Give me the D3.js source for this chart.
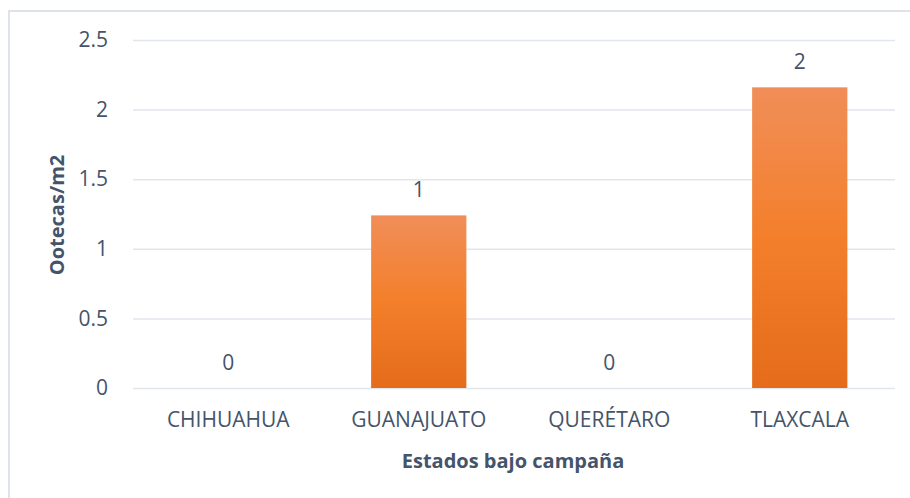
<!DOCTYPE html>
<html>
<head>
<meta charset="utf-8">
<script src="https://cdn.jsdelivr.net/npm/d3@7"></script>
<style>
  html, body { margin: 0; padding: 0; background: #ffffff; }
  svg { display: block; }
</style>
</head>
<body>
<svg id="chart" width="910" height="498"></svg>
<script>
const categories = ["CHIHUAHUA", "GUANAJUATO", "QUERÉTARO", "TLAXCALA"];
const values = [0, 1.24, 0, 2.16];
const valueLabels = ["0", "1", "0", "2"];
const yTicks = [0, 0.5, 1, 1.5, 2, 2.5];
const xTitle = "Estados bajo campaña";
const yTitle = "Ootecas/m2";

const svg = d3.select("#chart");
const textColor = "#44546A";
const font = "'Open Sans', 'Noto Sans', sans-serif";
const fs = "21px";

// outer border
svg.append("path")
  .attr("d", "M9,498 L9,11 L910,11")
  .attr("fill", "none")
  .attr("stroke", "#DEE3EA")
  .attr("stroke-width", 2);

const x = d3.scaleBand().domain(categories).range([133, 895]).paddingInner(0.5).paddingOuter(0.25);
const y = d3.scaleLinear().domain([0, 2.5]).range([388, 40]);

const defs = svg.append("defs");
const grad = defs.append("linearGradient").attr("id", "barGrad")
  .attr("x1", 0).attr("y1", 0).attr("x2", 0).attr("y2", 1);
grad.append("stop").attr("offset", "0%").attr("stop-color", "#F08E58");
grad.append("stop").attr("offset", "50%").attr("stop-color", "#F47F2B");
grad.append("stop").attr("offset", "100%").attr("stop-color", "#E46C1A");

// gridlines
const yAxis = d3.axisLeft(y).tickValues(yTicks).tickSize(-(895 - 133)).tickFormat(d3.format("~g")).tickPadding(25);
const gy = svg.append("g").attr("transform", "translate(133,0)").call(yAxis);
gy.select(".domain").remove();
gy.selectAll(".tick line").attr("stroke", "#E1E5EC").attr("stroke-width", 1.5);
gy.selectAll(".tick text")
  .attr("fill", textColor)
  .style("font-family", font)
  .style("font-size", fs);

// bars
svg.append("g").selectAll("rect")
  .data(categories)
  .join("rect")
  .attr("x", d => x(d))
  .attr("width", x.bandwidth())
  .attr("y", (d, i) => y(values[i]))
  .attr("height", (d, i) => y(0) - y(values[i]))
  .attr("fill", "url(#barGrad)");

// value labels
svg.append("g").selectAll("text")
  .data(categories)
  .join("text")
  .attr("x", d => x(d) + x.bandwidth() / 2)
  .attr("y", (d, i) => y(values[i]) - 18)
  .attr("text-anchor", "middle")
  .attr("fill", textColor)
  .style("font-family", font)
  .style("font-size", fs)
  .text((d, i) => valueLabels[i]);

// x axis labels
const xAxis = d3.axisBottom(x).tickSize(0).tickPadding(24);
const gx = svg.append("g").attr("transform", "translate(0,388)").call(xAxis);
gx.select(".domain").remove();
gx.selectAll(".tick text")
  .attr("fill", textColor)
  .style("font-family", font)
  .style("font-size", fs);

// axis titles
svg.append("text")
  .attr("x", 513)
  .attr("y", 468)
  .attr("text-anchor", "middle")
  .attr("fill", textColor)
  .style("font-family", font)
  .style("font-size", "20px")
  .style("font-weight", "bold")
  .text(xTitle);

svg.append("text")
  .attr("transform", "translate(64,215) rotate(-90)")
  .attr("text-anchor", "middle")
  .attr("fill", textColor)
  .style("font-family", font)
  .style("font-size", "20px")
  .style("font-weight", "bold")
  .text(yTitle);
</script>
</body>
</html>
